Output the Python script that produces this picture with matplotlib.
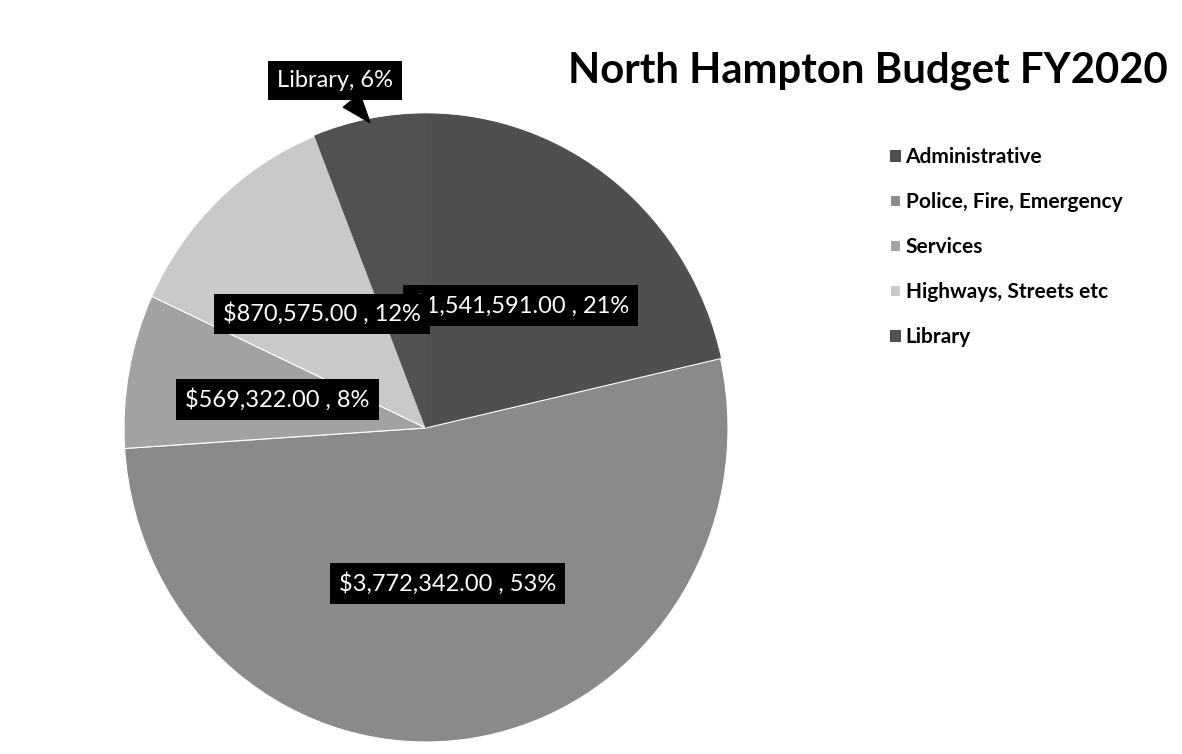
import numpy as np
import matplotlib
matplotlib.use("Agg")
import matplotlib.pyplot as plt

# North Hampton budget FY2020 (library amount estimated from its 6% share)
categories = ["Administrative", "Police, Fire, Emergency", "Services",
              "Highways, Streets etc", "Library"]
amounts = [1541591.00, 3772342.00, 569322.00, 870575.00, 431000.00]
colors = ["#4f4f4f", "#8a8a8a", "#a2a2a2", "#c9c9c9", "#515151"]

plt.rcParams["font.family"] = ["Lato", "DejaVu Sans"]

fig = plt.figure(figsize=(11.82, 7.54), dpi=100)
fig.patch.set_facecolor("white")

# pie area (slightly taller than wide, like the photographed chart)
ax = fig.add_axes([0.1049, 0.0159, 0.511, 0.833])
wedges, _ = ax.pie(amounts, startangle=90, counterclock=False, colors=colors,
                   radius=1.0, wedgeprops=dict(edgecolor="white", linewidth=0.8))
# admin and library blend together in the scan
for w in (wedges[0], wedges[4]):
    w.set_edgecolor(w.get_facecolor())
ax.set_aspect("auto")
ax.set_xlim(-1, 1)
ax.set_ylim(-1, 1)
ax.axis("off")

total = sum(amounts)
box = dict(boxstyle="square,pad=0.38", facecolor="black", edgecolor="none")

def mid_angle(w):
    return np.deg2rad((w.theta1 + w.theta2) / 2)

# inside labels, admin first so the highways box sits over it
for i in range(4):
    a = mid_angle(wedges[i])
    r = 0.5
    pct = round(amounts[i] / total * 100)
    ax.text(r * np.cos(a), r * np.sin(a), f"${amounts[i]:,.2f} , {pct}%",
            color="white", fontsize=17, ha="center", va="center",
            bbox=box, zorder=5 + i)

# library label sits outside with a small pointer
lib = wedges[4]
a = mid_angle(lib)
pct = round(amounts[4] / total * 100)
ax.annotate(f"{categories[4]}, {pct}%", xy=(np.cos(a) * 0.99, np.sin(a) * 0.99),
            xytext=(-0.30, 1.105), color="white", fontsize=17,
            ha="center", va="center", bbox=box, annotation_clip=False,
            arrowprops=dict(arrowstyle="wedge,tail_width=0.9", color="black",
                            shrinkA=0, shrinkB=0), zorder=10)

fig.text(0.4805, 0.906, "North Hampton Budget FY2020", fontsize=30.2,
         fontweight="bold", ha="left", va="center", color="black")

fig.legend(wedges, categories, loc="upper left", bbox_to_anchor=(0.737, 0.83),
           frameon=False, prop=dict(size=15, weight="bold"),
           handlelength=0.5, handleheight=0.5, handletextpad=0.25,
           labelspacing=1.2)

fig.savefig("out.png", dpi=100, facecolor="white")
